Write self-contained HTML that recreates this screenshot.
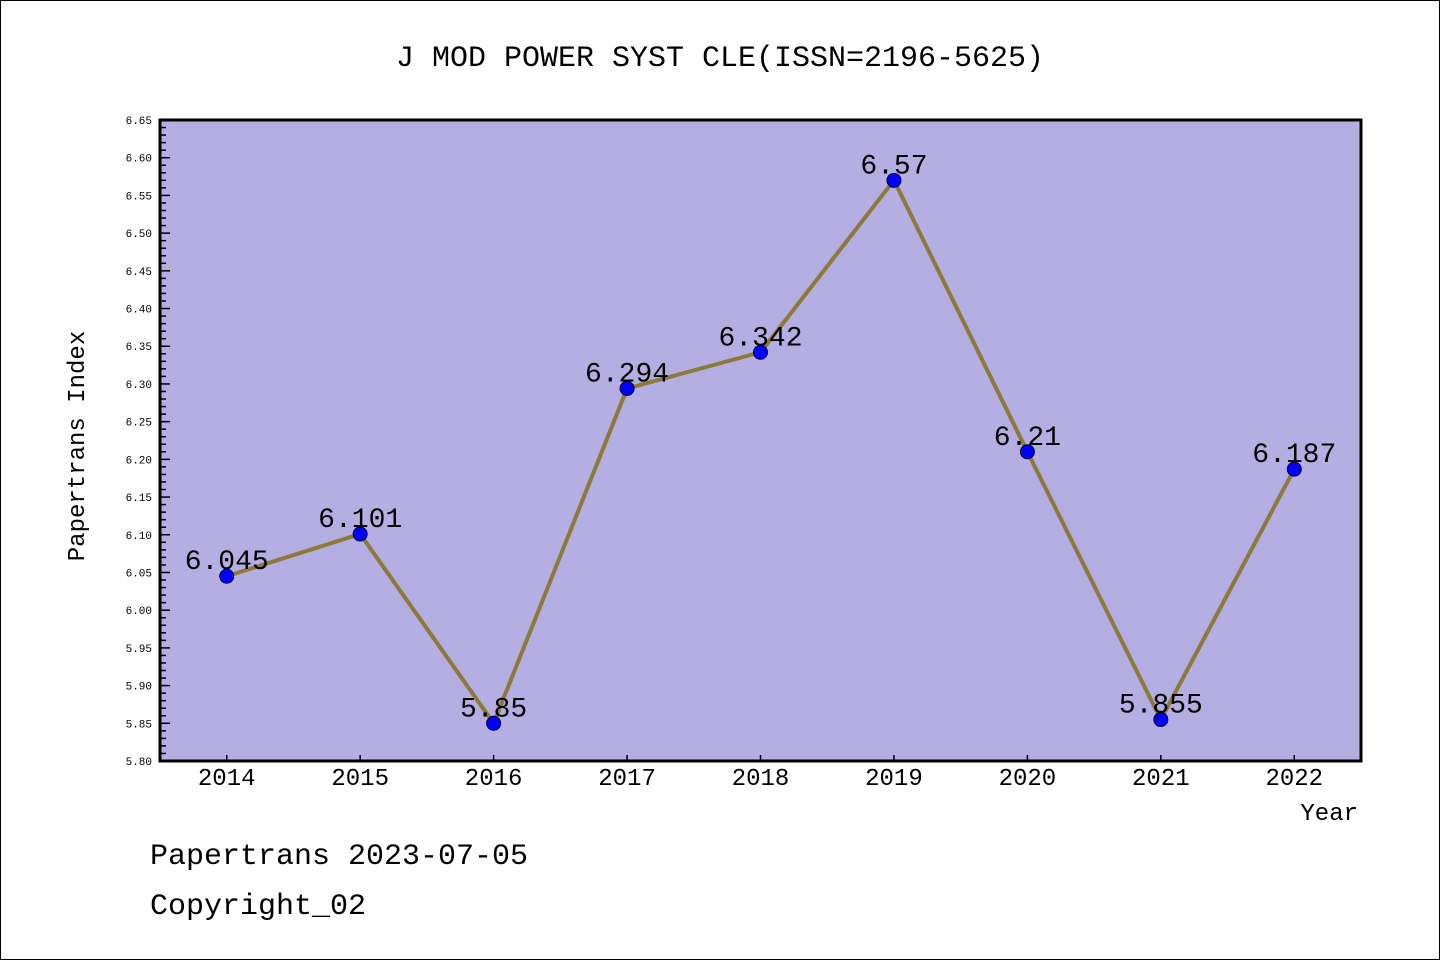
<!DOCTYPE html>
<html><head><meta charset="utf-8"><style>
body{margin:0;background:#fff}
svg{display:block}
text{font-family:"Liberation Mono","DejaVu Sans Mono",monospace}
</style></head><body>
<svg id="chart" width="1440" height="960" xmlns="http://www.w3.org/2000/svg">
<rect x="0.5" y="0.5" width="1439" height="959" fill="#fff" stroke="#000" stroke-width="1"/>
<text x="720" y="66" text-anchor="middle" font-size="30">J MOD POWER SYST CLE(ISSN=2196-5625)</text>
<rect x="160" y="120" width="1201" height="641" fill="#b5aee2"/>
<g id="ticks"></g>
<g id="series"></g>
<rect x="160" y="120" width="1201" height="641" fill="none" stroke="#000" stroke-width="3"/>
<text transform="translate(84,446) rotate(-90)" text-anchor="middle" font-size="24">Papertrans Index</text>
<text x="1358" y="820" text-anchor="end" font-size="24">Year</text>
<text x="150" y="864" font-size="30">Papertrans 2023-07-05</text>
<text x="150" y="914" font-size="30">Copyright_02</text>
</svg>
<script>
const categories=["2014","2015","2016","2017","2018","2019","2020","2021","2022"];
const values=[6.045,6.101,5.85,6.294,6.342,6.57,6.21,5.855,6.187];
const valueLabels=["6.045","6.101","5.85","6.294","6.342","6.57","6.21","5.855","6.187"];
const yTickLabels=["5.80","5.85","5.90","5.95","6.00","6.05","6.10","6.15","6.20","6.25","6.30","6.35","6.40","6.45","6.50","6.55","6.60","6.65"];
const NS="http://www.w3.org/2000/svg";
const L=160,R=1361,T=120,B=761,yMin=5.8,yMax=6.65;
const step=(R-L)/categories.length;
const xs=i=>L+step*(i+0.5);
const ys=v=>B-(v-yMin)/(yMax-yMin)*(B-T);
function mk(tag,attrs,parent){const e=document.createElementNS(NS,tag);for(const k in attrs)e.setAttribute(k,attrs[k]);parent.appendChild(e);return e;}
const tg=document.getElementById('ticks');
for(let k=0;k<=85;k++){
  const v=yMin+k*0.01,y=ys(v),major=k%5===0;
  const t=mk('line',{x1:L,x2:L+(major?10:6),y1:y,y2:y,stroke:'#000','stroke-width':1.5},tg);
  
  
}
yTickLabels.forEach(s=>{
  const tx=mk('text',{x:L-8,y:ys(parseFloat(s))+4,'text-anchor':'end','font-size':11,'font-family':'"Liberation Sans",sans-serif'},tg);
  tx.textContent=s;
  
  
});
categories.forEach((c,i)=>{
  const t=mk('line',{x1:xs(i),x2:xs(i),y1:B,y2:B-6,stroke:'#000','stroke-width':1.5},tg);
  
  
  const tx=mk('text',{x:xs(i),y:B+24,'text-anchor':'middle','font-size':24,'font-family':'"Liberation Sans",sans-serif'},tg);
  tx.textContent=c;
  
  
});
const sg=document.getElementById('series');
const pl=mk('polyline',{points:values.map((v,i)=>xs(i)+','+ys(v)).join(' '),fill:'none',stroke:'#8c7a3a','stroke-width':4},sg);


values.forEach((v,i)=>{
  const c=mk('circle',{cx:xs(i),cy:ys(v),r:7,fill:'#0000ff',stroke:'#000033','stroke-width':1},sg);
  
  
  const tx=mk('text',{x:xs(i),y:ys(v)-7,'text-anchor':'middle','font-size':28},sg);
  tx.textContent=valueLabels[i];
  
  
});
</script>
</body></html>
